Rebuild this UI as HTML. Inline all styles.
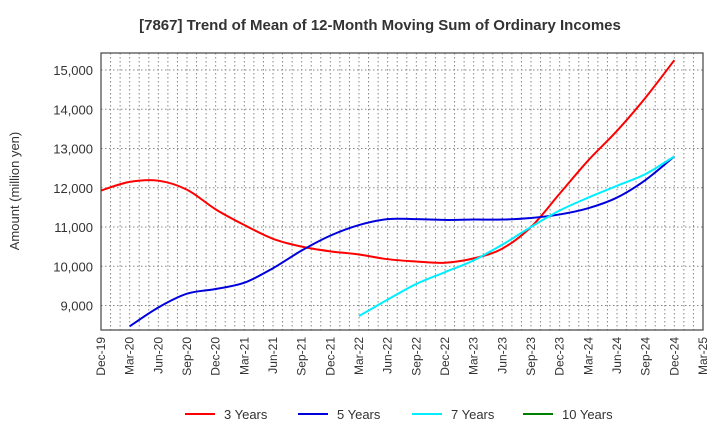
<!DOCTYPE html>
<html><head><meta charset="utf-8"><style>
body{margin:0;background:#fff;font-family:"Liberation Sans",Arial,sans-serif;}
svg text{font-family:"Liberation Sans",Arial,sans-serif;}
</style></head><body>
<svg id="c" width="720" height="440">
<text x="380" y="30" text-anchor="middle" font-size="15" font-weight="bold" fill="#333">[7867]  Trend of Mean of 12-Month Moving Sum of Ordinary Incomes</text>
<text transform="translate(19,191) rotate(-90)" text-anchor="middle" font-size="13" fill="#333">Amount (million yen)</text>
<g id="grid"></g><g id="series"></g><g id="axes"></g><g id="legend"></g>
</svg>
<script>
const xLabels=["Dec-19","Mar-20","Jun-20","Sep-20","Dec-20","Mar-21","Jun-21","Sep-21","Dec-21","Mar-22","Jun-22","Sep-22","Dec-22","Mar-23","Jun-23","Sep-23","Dec-23","Mar-24","Jun-24","Sep-24","Dec-24","Mar-25"];
const yTicks=[9000,10000,11000,12000,13000,14000,15000];
const s3=[11930,12150,12180,11950,11450,11050,10700,10500,10380,10300,10180,10120,10090,10200,10450,11000,11850,12700,13450,14300,15250];
const s5=[null,8470,8950,9300,9420,9580,9950,10400,10780,11050,11200,11200,11180,11190,11190,11230,11320,11480,11750,12200,12800];
const s7=[null,null,null,null,null,null,null,null,null,8730,9150,9550,9850,10150,10550,11000,11420,11750,12050,12350,12800];
const s10=[];
const L=101,R=703,T=53,B=330;
const X=i=>L+i*3*(R-L)/63;
const Y=v=>70+(15000-v)*0.03925;
const ns="http://www.w3.org/2000/svg";
function mk(tag,attrs,parent){const e=document.createElementNS(ns,tag);for(const k in attrs)e.setAttribute(k,attrs[k]);parent.appendChild(e);return e;}
const grid=document.getElementById('grid'),axes=document.getElementById('axes'),ser=document.getElementById('series'),leg=document.getElementById('legend');
for(let m=1;m<63;m++){const x=L+m*(R-L)/63;const g=mk('line',{x1:x,x2:x,y1:T,y2:B,stroke:'#888','stroke-dasharray':'1.5,2.5','stroke-width':1},grid);}
yTicks.forEach(v=>{const y=Y(v);const g=mk('line',{x1:L,x2:R,y1:y,y2:y,stroke:'#888','stroke-dasharray':'1.5,2.5'},grid);
const t=mk('text',{x:L-8,y:y+5,'text-anchor':'end','font-size':13,fill:'#333'},axes);t.textContent=v.toLocaleString('en-US');});
const fr=mk('rect',{x:L,y:T,width:R-L,height:B-T,fill:'none',stroke:'#444','stroke-width':1.2},axes);
xLabels.forEach((l,i)=>{const x=X(i);const t=mk('text',{transform:`translate(${x+4},${B+7}) rotate(-90)`,'text-anchor':'end','font-size':12,fill:'#333'},axes);t.textContent=l;});
function path(arr){const p=[];arr.forEach((v,i)=>{if(v!=null)p.push([X(i),Y(v)]);});if(p.length<2)return '';let d=`M${p[0][0]},${p[0][1]}`;
for(let i=0;i<p.length-1;i++){const p0=p[i-1]||p[i],p1=p[i],p2=p[i+1],p3=p[i+2]||p2;
d+=`C${p1[0]+(p2[0]-p0[0])/6},${p1[1]+(p2[1]-p0[1])/6} ${p2[0]-(p3[0]-p1[0])/6},${p2[1]-(p3[1]-p1[1])/6} ${p2[0]},${p2[1]}`;}return d;}
const series=[[s3,'#ff0000','3 Years','series-3-years'],[s5,'#0000dd','5 Years','series-5-years'],[s7,'#00eeff','7 Years','series-7-years'],[s10,'#008000','10 Years','series-10-years']];
const lx=[185,298,412,523];
series.forEach((s,k)=>{const d=path(s[0]);if(d){const e=mk('path',{d:d,fill:'none',stroke:s[1],'stroke-width':2},ser);}
const g=mk('g',{},leg);
mk('line',{x1:lx[k],x2:lx[k]+30,y1:414,y2:414,stroke:s[1],'stroke-width':2},g);
const t=mk('text',{x:lx[k]+39,y:419,'font-size':13,fill:'#333'},g);t.textContent=s[2];});
</script>
</body></html>
